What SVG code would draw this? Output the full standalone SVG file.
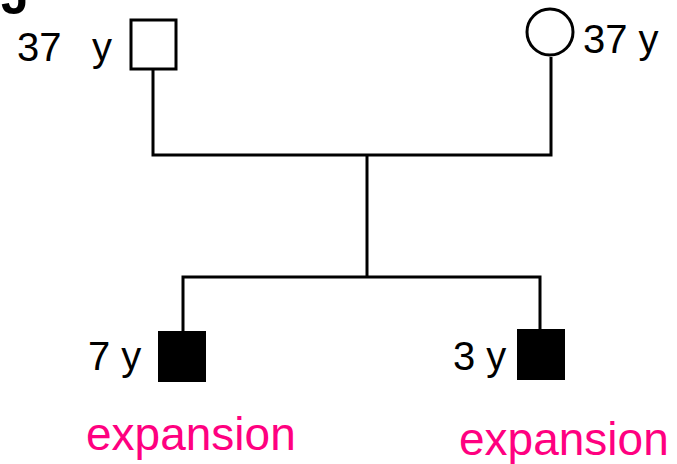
<svg xmlns="http://www.w3.org/2000/svg" width="677" height="464" viewBox="0 0 677 464">
<style>
.ln{stroke:#000;stroke-width:3;fill:none}
.open{fill:#fff;stroke:#000;stroke-width:3}
.aff{fill:#000}
.lbl{font-family:"Liberation Sans",Arial,sans-serif;font-size:40px;fill:#000}
.exp{font-family:"Liberation Sans",Arial,sans-serif;font-size:46px;fill:#ff0080}
</style>
<rect width="677" height="464" fill="#fff"/>
<text x="1" y="14" font-family="Liberation Sans, Arial, sans-serif" font-size="50" font-weight="bold" fill="#000">J</text>
<g id="connectors">
<path class="ln" d="M153,69 V155 H551 V57"/>
<path class="ln" d="M367,155 V277"/>
<path class="ln" d="M183,331 V277 H540 V329"/>
</g>
<g id="father">
<rect class="open" x="131" y="20" width="45" height="49"/>
<text class="lbl" x="17" y="61">37<tspan x="92">y</tspan></text>
</g>
<g id="mother">
<circle class="open" cx="550" cy="32" r="23"/>
<text class="lbl" x="583" y="53">37 y</text>
</g>
<g id="son1">
<rect class="aff" x="158" y="331" width="48" height="51"/>
<text class="lbl" x="88" y="370">7 y</text>
<text class="exp" x="86" y="450">expansion</text>
</g>
<g id="son2">
<rect class="aff" x="517" y="329" width="48" height="51"/>
<text class="lbl" x="453" y="370">3 y</text>
<text class="exp" x="459" y="455">expansion</text>
</g>
</svg>
